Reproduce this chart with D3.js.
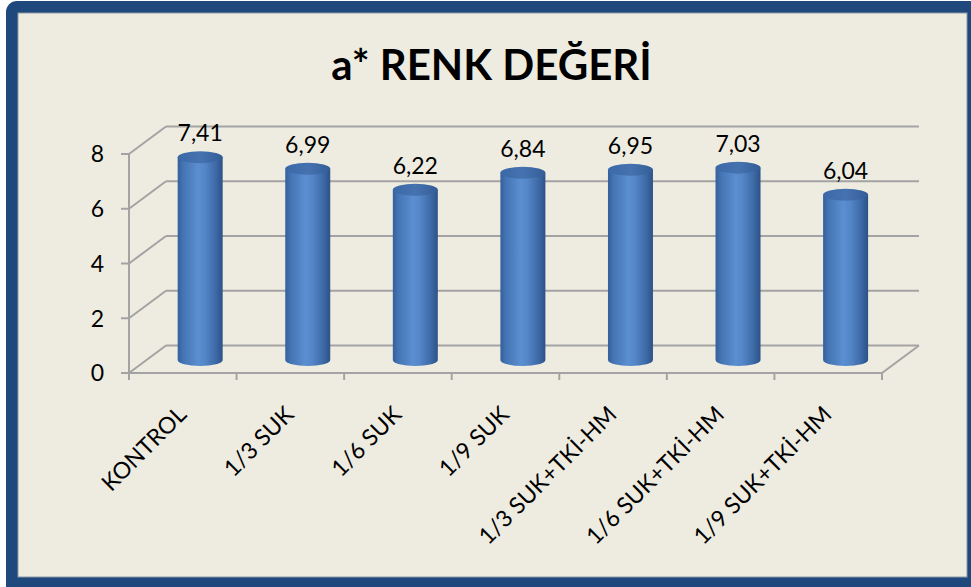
<!DOCTYPE html>
<html>
<head>
<meta charset="utf-8">
<script src="https://cdn.jsdelivr.net/npm/d3@7"></script>
<style>
html,body{margin:0;padding:0;background:#ffffff;}
svg{display:block;}
text{font-family:Lato,"Noto Sans",sans-serif;fill:#000;}
</style>
</head>
<body>
<svg id="chart" width="971" height="587"></svg>
<script>
const title = "a* RENK DEĞERİ";
const categories = ["KONTROL","1/3 SUK","1/6 SUK","1/9 SUK","1/3 SUK+TKİ-HM","1/6 SUK+TKİ-HM","1/9 SUK+TKİ-HM"];
const values = [7.41, 6.99, 6.22, 6.84, 6.95, 7.03, 6.04];
const valueLabels = ["7,41","6,99","6,22","6,84","6,95","7,03","6,04"];
const yTicks = [0, 2, 4, 6, 8];

const svg = d3.select("#chart");

// frame
svg.append("rect").attr("x",6).attr("y",1).attr("width",980).attr("height",600).attr("rx",11).attr("fill","#1F497D");
svg.append("rect").attr("x",18).attr("y",13).attr("width",949).attr("height",564).attr("fill","#EEECE1")
  .attr("stroke","#8d98a8").attr("stroke-width",1);

// geometry
const x0 = 129, x1 = 882;
const depthX = 37, depthY = -27.5;
const x = d3.scaleBand().domain(categories).range([x0, x1]).padding(0);
const y = d3.scaleLinear().domain([0, 8]).range([373, 154]);
const gridColor = "#a3a3a3";

const defs = svg.append("defs");
const gBody = defs.append("linearGradient").attr("id","cylBody").attr("x1","0").attr("x2","1").attr("y1","0").attr("y2","0");
[[0,"#34609b"],[0.12,"#4474b3"],[0.45,"#5b8fd1"],[0.6,"#5486c8"],[0.85,"#3d69a6"],[1,"#2c5287"]].forEach(s=>gBody.append("stop").attr("offset",s[0]).attr("stop-color",s[1]));
const gTop = defs.append("linearGradient").attr("id","cylTop").attr("x1","0").attr("x2","1").attr("y1","0").attr("y2","0");
[[0,"#3b68a6"],[0.5,"#4673b0"],[1,"#335d97"]].forEach(s=>gTop.append("stop").attr("offset",s[0]).attr("stop-color",s[1]));

const grid = svg.append("g").attr("stroke",gridColor).attr("stroke-width",2).attr("fill","none");
// back wall gridlines and side wall diagonals
yTicks.forEach(t=>{
  grid.append("line").attr("x1",x0+depthX).attr("x2",x1+depthX).attr("y1",y(t)+depthY).attr("y2",y(t)+depthY);
  grid.append("line").attr("x1",x0).attr("x2",x0+depthX).attr("y1",y(t)).attr("y2",y(t)+depthY);
  grid.append("line").attr("x1",x0-8).attr("x2",x0).attr("y1",y(t)).attr("y2",y(t));
});
// front y axis
grid.append("line").attr("x1",x0).attr("x2",x0).attr("y1",y(8)).attr("y2",y(0)+7);
// floor front edge and right diagonal
grid.append("line").attr("x1",x0).attr("x2",x1).attr("y1",y(0)).attr("y2",y(0));
grid.append("line").attr("x1",x1).attr("x2",x1+depthX).attr("y1",y(0)).attr("y2",y(0)+depthY);
// category ticks
categories.concat([null]).forEach((c,i)=>{
  const xx = c ? x(c) : x1;
  grid.append("line").attr("x1",xx).attr("x2",xx).attr("y1",y(0)).attr("y2",y(0)+7);
});

// y tick labels
svg.append("g").selectAll("text").data(yTicks).join("text")
  .attr("x",104).attr("y",d=>y(d)).attr("dy","0.36em").attr("text-anchor","end")
  .attr("font-size",23).attr("fill","#1a1a1a").text(d=>d);

// cylinders
const t = 0.47, rx = 22.5, ry = 6;
const bars = svg.append("g");
categories.forEach((c,i)=>{
  const cx = x(c) + x.bandwidth()/2 + depthX*t;
  const base = y(0) + depthY*t;
  const top = y(values[i]) + depthY*t;
  bars.append("path")
    .attr("d",`M${cx-rx},${top} L${cx-rx},${base} A${rx},${ry} 0 0 0 ${cx+rx},${base} L${cx+rx},${top} Z`)
    .attr("fill","url(#cylBody)");
  bars.append("ellipse").attr("cx",cx).attr("cy",top).attr("rx",rx).attr("ry",ry).attr("fill","url(#cylTop)");
  bars.append("text").attr("x",cx).attr("y",top-16).attr("text-anchor","middle")
    .attr("font-size",23).attr("fill","#1a1a1a").text(valueLabels[i]);
});

// category labels
const catG = svg.append("g");
categories.forEach((c,i)=>{
  const cx = x(c) + x.bandwidth()/2;
  catG.append("text")
    .attr("transform",`translate(${cx+5},${416}) rotate(-45)`)
    .attr("text-anchor","end").attr("font-size",23).attr("fill","#111")
    .text(c);
});

// title
svg.append("text").attr("x",491.5).attr("y",80).attr("text-anchor","middle")
  .attr("font-size",42).attr("font-weight","bold").attr("fill","#000").text(title);
</script>
</body>
</html>
